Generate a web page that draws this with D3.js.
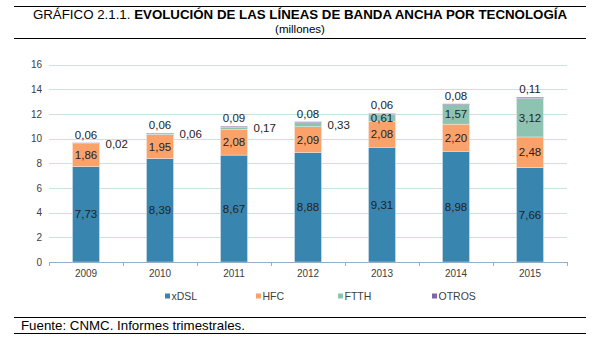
<!DOCTYPE html>
<html>
<head>
<meta charset="utf-8">
<script src="https://cdn.jsdelivr.net/npm/d3@7/dist/d3.min.js"></script>
<style>
body { margin: 0; background: #fff; font-family: "Liberation Sans", Arial, sans-serif; }
</style>
</head>
<body>
<svg id="chart" width="601" height="346"></svg>
<script>

var years = ['2009', '2010', '2011', '2012', '2013', '2014', '2015'];
var series = ['xDSL', 'HFC', 'FTTH', 'OTROS'];
var xdsl = [7.73, 8.39, 8.67, 8.88, 9.31, 8.98, 7.66];
var hfc = [1.86, 1.95, 2.08, 2.09, 2.08, 2.20, 2.48];
var ftth = [0.02, 0.06, 0.17, 0.33, 0.61, 1.57, 3.12];
var otros = [0.06, 0.06, 0.09, 0.08, 0.06, 0.08, 0.11];
var yTicks = [0, 2, 4, 6, 8, 10, 12, 14, 16];

var colors = { xDSL: '#3886b0', HFC: '#fba26b', FTTH: '#8ec3b2', OTROS: '#8265a8' };

var rows = years.map(function(y, i) {
  return { year: y, xDSL: xdsl[i], HFC: hfc[i], FTTH: ftth[i], OTROS: otros[i] };
});

var fmt = function(v) { return d3.format('.2f')(v).replace('.', ','); };

var svg = d3.select('#chart');

// Title block
svg.append('line').attr('x1', 14).attr('x2', 586).attr('y1', 6.5).attr('y2', 6.5)
  .attr('stroke', '#000').attr('stroke-width', 1);
var title = svg.append('text')
  .attr('x', 300).attr('y', 19)
  .attr('text-anchor', 'middle')
  .style('font-size', '13.3px')
  .attr('fill', '#000');
title.append('tspan').text('GRÁFICO 2.1.1. ');
title.append('tspan').attr('font-weight', 'bold').text('EVOLUCIÓN DE LAS LÍNEAS DE BANDA ANCHA POR TECNOLOGÍA');
svg.append('text')
  .attr('x', 300).attr('y', 32.5)
  .attr('text-anchor', 'middle')
  .style('font-size', '11.5px')
  .text('(millones)');
svg.append('line').attr('x1', 14).attr('x2', 586).attr('y1', 38.5).attr('y2', 38.5)
  .attr('stroke', '#000').attr('stroke-width', 1);

// Scales
var x = d3.scaleBand().domain(years).range([49, 567]).paddingInner(0.635).paddingOuter(0.3175);
var y = d3.scaleLinear().domain([0, 16]).range([262, 64.7]);

// Gridlines
svg.append('g').selectAll('line')
  .data(yTicks.filter(function(t) { return t > 0; }))
  .enter().append('line')
  .attr('x1', 49).attr('x2', 567)
  .attr('y1', function(d) { return Math.round(y(d)) + 0.5; })
  .attr('y2', function(d) { return Math.round(y(d)) + 0.5; })
  .attr('stroke', '#c8e2dc').attr('stroke-width', 1);

// Y labels
svg.append('g').selectAll('text')
  .data(yTicks)
  .enter().append('text')
  .attr('x', 42).attr('y', function(d) { return y(d) + 3.5; })
  .attr('text-anchor', 'end')
  .style('font-size', '10px')
  .attr('fill', '#404040')
  .text(function(d) { return d; });

// Stacked bars
var stack = d3.stack().keys(series)(rows);

var layers = svg.append('g').selectAll('g')
  .data(stack)
  .enter().append('g')
  .attr('fill', function(d) { return colors[d.key]; });

layers.selectAll('rect')
  .data(function(d) { return d; })
  .enter().append('rect')
  .attr('x', function(d) { return x(d.data.year); })
  .attr('width', x.bandwidth())
  .attr('y', function(d) { return y(d[1]); })
  .attr('height', function(d) { return y(d[0]) - y(d[1]); })
  .attr('stroke', '#f2f2f2').attr('stroke-width', 0.4);

// Axis line and ticks
var step = x.step();
svg.append('line').attr('x1', 49).attr('x2', 567).attr('y1', 262.5).attr('y2', 262.5)
  .attr('stroke', '#8fb0c8').attr('stroke-width', 1);
svg.append('g').selectAll('line')
  .data(years.concat(['end']))
  .enter().append('line')
  .attr('x1', function(d, i) { return Math.round(49 + i * step) + 0.5; })
  .attr('x2', function(d, i) { return Math.round(49 + i * step) + 0.5; })
  .attr('y1', 262).attr('y2', 266)
  .attr('stroke', '#8fb0c8');

svg.append('g').selectAll('text')
  .data(years)
  .enter().append('text')
  .attr('x', function(d) { return x(d) + x.bandwidth() / 2; })
  .attr('y', 277)
  .attr('text-anchor', 'middle')
  .style('font-size', '10px')
  .attr('fill', '#404040')
  .text(function(d) { return d; });

// Value labels
var labels = svg.append('g').style('font-size', '11.5px').attr('fill', '#222');
stack.forEach(function(layer) {
  layer.forEach(function(d) {
    var v = d.data[layer.key];
    var cx = x(d.data.year) + x.bandwidth() / 2;
    if (layer.key === 'OTROS') {
      labels.append('text').attr('x', cx).attr('y', y(d[1]) - 4)
        .attr('text-anchor', 'middle').text(fmt(v));
    } else if (layer.key === 'FTTH' && v < 0.5) {
      labels.append('text').attr('x', x(d.data.year) + x.bandwidth() + 6)
        .attr('y', y((d[0] + d[1]) / 2) + 4)
        .attr('text-anchor', 'start').text(fmt(v));
    } else {
      labels.append('text').attr('x', cx).attr('y', y((d[0] + d[1]) / 2) + 4)
        .attr('text-anchor', 'middle').text(fmt(v));
    }
  });
});

// Legend
var legendX = [165, 256, 338, 432];
var legend = svg.append('g').selectAll('g')
  .data(series)
  .enter().append('g')
  .attr('transform', function(d, i) { return 'translate(' + legendX[i] + ',296)'; });
legend.append('rect').attr('x', 0).attr('y', -2.5).attr('width', 5).attr('height', 5)
  .attr('fill', function(d) { return colors[d]; });
legend.append('text').attr('x', 6.5).attr('y', 3.5)
  .style('font-size', '10.5px').attr('fill', '#404040')
  .text(function(d) { return d; });

// Source block
svg.append('line').attr('x1', 14).attr('x2', 586).attr('y1', 317.5).attr('y2', 317.5)
  .attr('stroke', '#000').attr('stroke-width', 1);
svg.append('text').attr('x', 21).attr('y', 329.5)
  .style('font-size', '13.3px')
  .text('Fuente: CNMC. Informes trimestrales.');
svg.append('line').attr('x1', 14).attr('x2', 586).attr('y1', 333.5).attr('y2', 333.5)
  .attr('stroke', '#000').attr('stroke-width', 1);

</script>
</body>
</html>
